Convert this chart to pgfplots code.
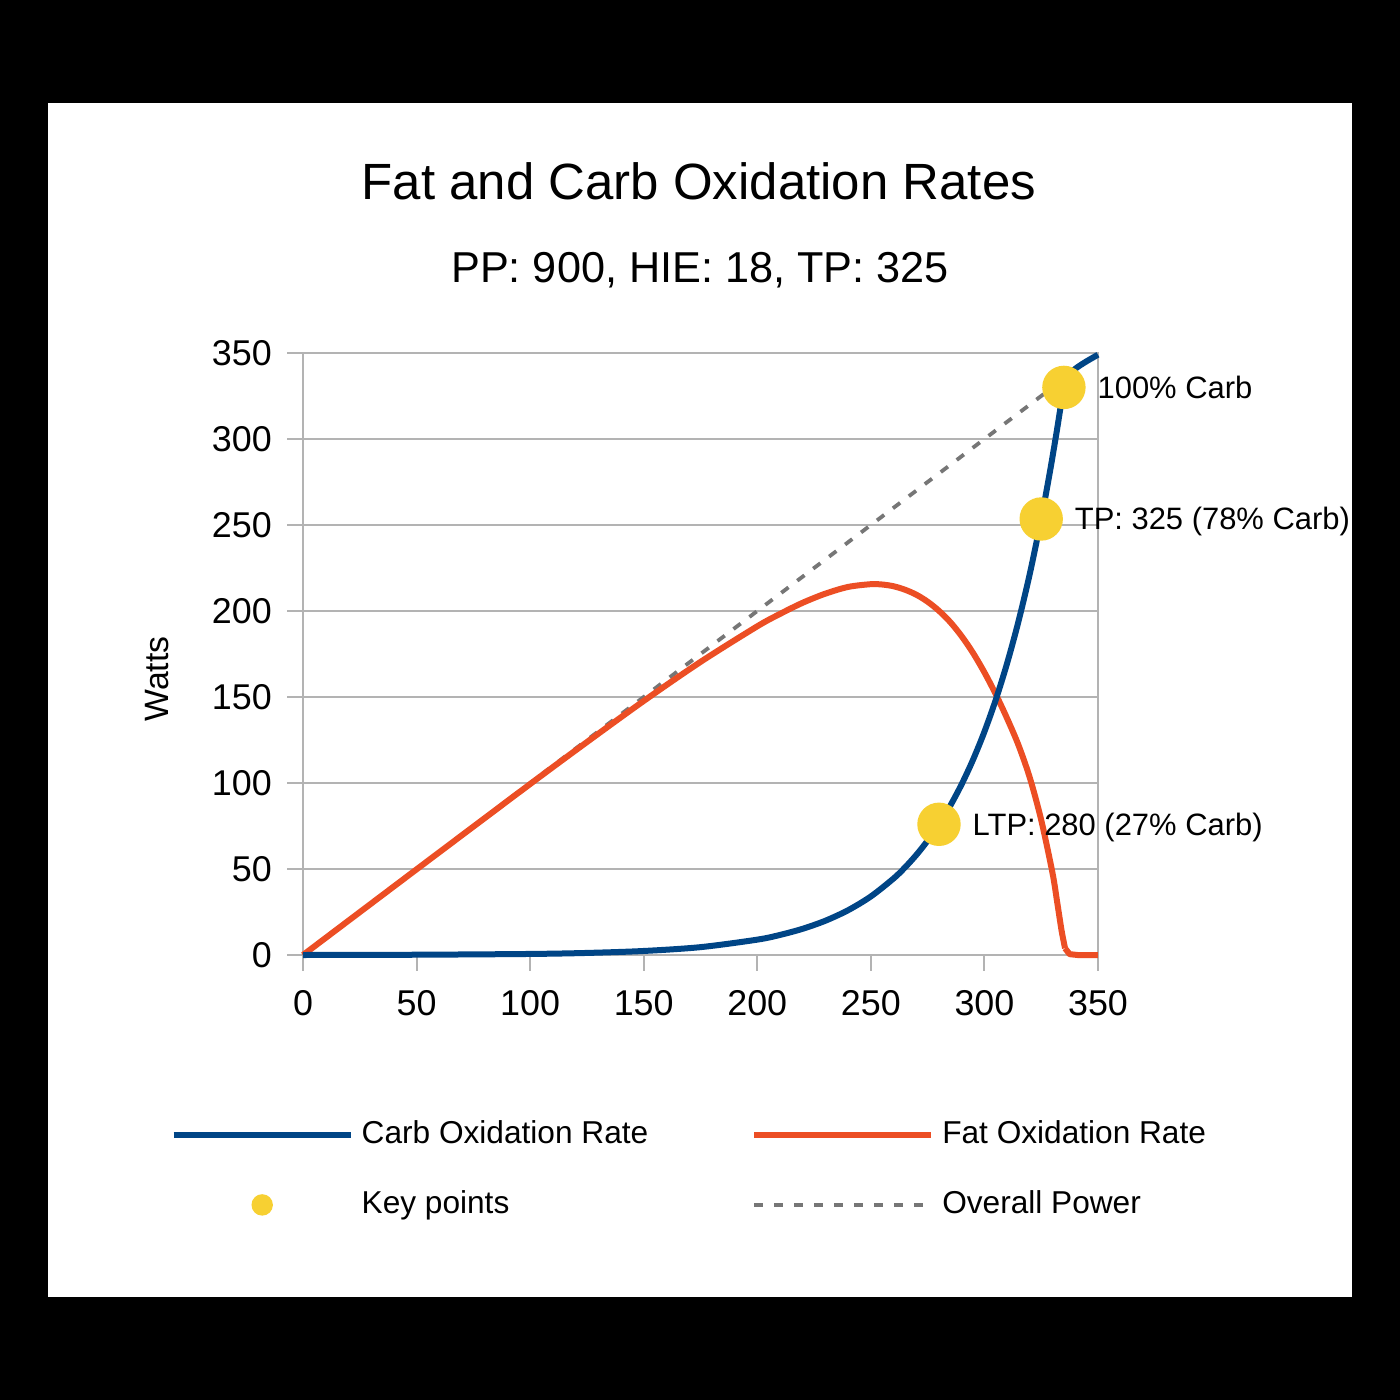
\documentclass[border=0pt]{standalone}
\usepackage{fontspec}
\setmainfont{Liberation Sans}
\usepackage{pgfplots}
\pgfplotsset{compat=1.18}
\definecolor{cblue}{HTML}{004586}
\definecolor{cred}{HTML}{EC4E24}
\definecolor{cyel}{HTML}{F7D032}
\definecolor{cgrid}{HTML}{B3B3B3}
\definecolor{cdash}{HTML}{767676}
\begin{document}
\begin{tikzpicture}
\fill[black] (-30.3mm,-44.5mm) rectangle (109.7mm,95.5mm);
\fill[white] (-25.5mm,-34.2mm) rectangle (104.9mm,85.2mm);
\begin{axis}[
  at={(0,0)}, anchor=south west,
  scale only axis, width=79.5mm, height=60.2mm,
  xmin=0, xmax=350, ymin=0, ymax=350,
  clip=false,
  xtick={0,50,...,350}, ytick={0,50,...,350},
  xtick pos=bottom, ytick pos=left,
  tick align=outside,
  major tick length=1.55mm,
  tick style={cgrid, line width=0.2mm},
  axis line style={cgrid, line width=0.2mm},
  ymajorgrids, grid style={cgrid, line width=0.2mm},
  /pgf/number format/assume math mode=true,
  ticklabel style={font=\fontsize{10.2}{12}\selectfont, text=black, inner sep=0pt},
  xticklabel style={anchor=north, yshift=-1.9mm},
  yticklabel style={anchor=east, xshift=-1.5mm},
  ylabel={Watts},
  ylabel style={at={(axis description cs:-0.1836,0.4585)}, anchor=center, font=\fontsize{9.6}{11}\selectfont, inner sep=0pt},
  legend columns=2,
  legend cell align=left,
  legend style={at={(axis description cs:-0.1673,-0.357)}, anchor=west, draw=none, fill=none,
    font=\fontsize{9}{11}\selectfont, inner sep=0pt, column sep=0.8mm, row sep=4mm,
    nodes={inner sep=0pt, text height=2.4mm, text depth=0.6mm},
    /tikz/every even column/.append style={column sep=10.3mm}},
]
% overall power
\addplot[cdash, line width=0.38mm, dash pattern=on 0.9mm off 1.1mm, forget plot] coordinates {(0,0) (335,335)};
% key points
\addplot[only marks, mark=*, mark size=2.1mm, color=cyel, forget plot,
  nodes near coords, point meta=explicit symbolic,
  nodes near coords align={anchor=west},
  every node near coord/.append style={xshift=3.3mm, font=\fontsize{8.8}{10}\selectfont, text=black, inner sep=0pt, text height=2.2mm, text depth=0pt}]
  coordinates {(280,76) [LTP: 280 (27\% Carb)] (325,253.5) [TP: 325 (78\% Carb)] (335,330) [100\% Carb]};
% fat
\addplot[cred, line width=0.6mm, line join=round, smooth, tension=0.5, forget plot] coordinates {
(0,0) (50,49.8) (100,99.4) (125,123.8) (150,147.7) (175,170.4) (200,191.1) (210,198.3)
(220,204.8) (230,210.1) (240,214) (250,215.6) (255,215.4) (260,214.4) (265,212.4)
(270,209.5) (275,205.4) (280,200.1) (285,193.5) (290,185.3) (295,175.6) (300,164.3)
(305,151.6) (310,137.5) (315,122) (320,103) (325,78.5) (330,47.5) (332,31) (334,14)
(335.5,3.9)};
\addplot[cred, line width=0.6mm, line join=round, forget plot] coordinates {
(335.5,3.9) (337.5,0.5) (341,0) (350,0)};
% carb
\addplot[cblue, line width=0.6mm, line join=round, smooth, tension=0.5, forget plot] coordinates {
(0,0) (50,0.16) (100,0.61) (125,1.2) (150,2.34) (175,4.57) (200,8.93) (210,11.67)
(220,15.25) (230,19.93) (240,26.05) (250,34.04) (260,44.49) (265,50.87) (270,58.15)
(275,66.48) (280,76) (285,86.89) (290,99.33) (295,113.56) (300,129.82) (305,148.41)
(310,169.67) (315,193.97) (320,221.75) (325,253.5) (328,274.72) (330,289.81)
(332,305.75) (334,322.57) (335,331.3)};
\addplot[cblue, line width=0.6mm, line join=round, smooth, tension=0.5, forget plot] coordinates {
(335,331.3) (336,335.6) (338,338.6) (341,341.8) (345,345.2) (350,349)};
% legend
\addlegendimage{legend image code/.code={\draw[cblue, line width=0.6mm] (0mm,0mm) -- (17.7mm,0mm);}}
\addlegendentry{Carb Oxidation Rate}
\addlegendimage{legend image code/.code={\draw[cred, line width=0.6mm] (0mm,0mm) -- (17.7mm,0mm);}}
\addlegendentry{Fat Oxidation Rate}
\addlegendimage{legend image code/.code={\fill[cyel] (8.85mm,0mm) circle (1mm); \coordinate (la) at (0mm,0mm); \coordinate (lb) at (17.7mm,0mm);}}
\addlegendentry{Key points}
\addlegendimage{legend image code/.code={\draw[cdash, line width=0.38mm, dash pattern=on 0.9mm off 1.1mm] (0mm,0mm) -- (17mm,0mm); \coordinate (lc) at (17.7mm,0mm);}}
\addlegendentry{Overall Power}
\node[anchor=base, font=\fontsize{14.5}{17}\selectfont] at (axis description cs:0.498,1.2542) {Fat and Carb Oxidation Rates};
\node[anchor=base, font=\fontsize{12.3}{14}\selectfont] at (axis description cs:0.4994,1.1163) {PP: 900, HIE: 18, TP: 325};
\end{axis}
\end{tikzpicture}
\end{document}
